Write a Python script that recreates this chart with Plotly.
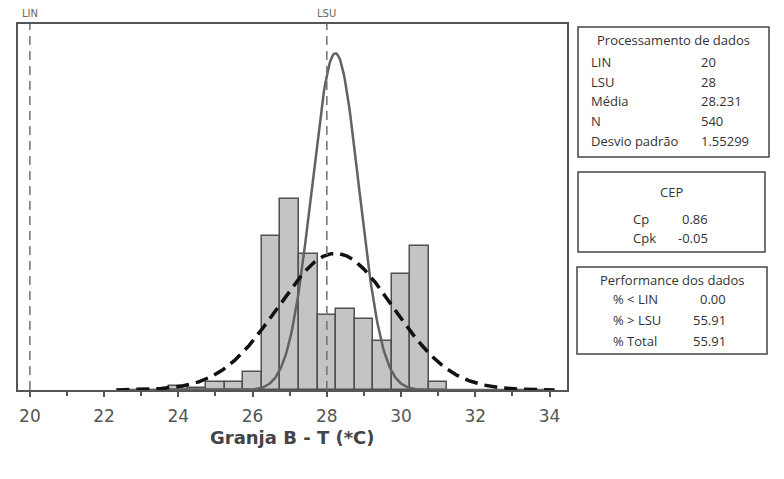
import numpy as np
import plotly.graph_objects as go

# ---- data ----
bin_centers = [24.0, 24.5, 25.0, 25.5, 26.0, 26.5, 27.0, 27.5, 28.0, 28.5, 29.0, 29.5, 30.0, 30.5, 31.0]
bin_counts = [2, 1, 4, 4, 9, 78, 97, 69, 38, 41, 36, 25, 59, 73, 4]
bin_width = 0.5

LIN = 20
LSU = 28
mean = 28.231
n_obs = 540
sd_overall = 1.55299
sd_within = 0.63

x_ticks = [20, 22, 24, 26, 28, 30, 32, 34]
x_title = "Granja B - T (*C)"

box1_title = "Processamento de dados"
box1_labels = ["LIN", "LSU", "Média", "N", "Desvio padrão"]
box1_values = ["20", "28", "28.231", "540", "1.55299"]

box2_title = "CEP"
box2_labels = ["Cp", "Cpk"]
box2_values = ["0.86", "-0.05"]

box3_title = "Performance dos dados"
box3_labels = ["% < LIN", "% > LSU", "% Total"]
box3_values = ["0.00", "55.91", "55.91"]

# ---- geometry helpers (pixels -> paper) ----
L, R, T, B = 18, 567, 24, 390
W, H = 784, 479
def px(x):
    return (x - L) / (R - L)
def py(y):
    return (B - y) / (B - T)

fig = go.Figure()

fig.add_trace(go.Bar(
    x=bin_centers, y=bin_counts, width=bin_width,
    marker=dict(color="#c4c4c4", line=dict(color="#505050", width=1.5)),
    showlegend=False, hoverinfo="x+y"))

xs = np.linspace(mean - 3.8 * sd_overall, mean + 3.8 * sd_overall, 400)
def normal_counts(s):
    return n_obs * bin_width * np.exp(-0.5 * ((xs - mean) / s) ** 2) / (s * np.sqrt(2 * np.pi))

fig.add_trace(go.Scatter(x=xs, y=normal_counts(sd_within), mode="lines",
                         line=dict(color="#626262", width=2.5), showlegend=False))
fig.add_trace(go.Scatter(x=xs, y=normal_counts(sd_overall), mode="lines",
                         line=dict(color="#111111", width=3.5, dash="13px,7px"), showlegend=False))

shapes = []
for v in (LIN, LSU):
    shapes.append(dict(type="line", xref="x", yref="paper", x0=v, x1=v, y0=0, y1=1,
                       line=dict(color="#707070", width=1.5, dash="9px,6px"), layer="above"))

# boxes
boxes = [(578, 27, 769, 157), (578, 172, 765, 252), (577, 267, 767, 354)]
for (x0, y0, x1, y1) in boxes:
    shapes.append(dict(type="rect", xref="paper", yref="paper",
                       x0=px(x0), x1=px(x1), y0=py(y1), y1=py(y0),
                       line=dict(color="#444444", width=1.5), fillcolor="rgba(0,0,0,0)"))

annotations = []
txt_font = dict(family="Open Sans", size=13, color="#333333")
def add_text(x, y, text, anchor="left", font=txt_font):
    annotations.append(dict(x=px(x), y=py(y), xref="paper", yref="paper", text=text,
                            showarrow=False, xanchor=anchor, yanchor="middle", font=font))

# spec labels
for v, name in ((LIN, "LIN"), (LSU, "LSU")):
    annotations.append(dict(x=v, y=py(14), xref="x", yref="paper", text=name, showarrow=False,
                            xanchor="center", yanchor="middle",
                            font=dict(family="DejaVu Sans", size=10, color="#666666")))

# box 1
add_text(673, 40, box1_title, anchor="center")
for lab, val, yy in zip(box1_labels, box1_values, [62, 82, 101, 121, 141]):
    add_text(589, yy, lab)
    add_text(699, yy, val)

# box 2
add_text(671, 192, box2_title, anchor="center")
for lab, val, yy in zip(box2_labels, box2_values, [219, 238]):
    add_text(631, yy, lab)
    add_text(710, yy, val, anchor="right")

# box 3
add_text(672, 280, box3_title, anchor="center")
for lab, val, yy in zip(box3_labels, box3_values, [299, 320, 341]):
    add_text(611, yy, lab)
    add_text(728, yy, val, anchor="right")

# x axis title
annotations.append(dict(x=0.5, y=py(437), xref="paper", yref="paper", text="<b>" + x_title + "</b>",
                        showarrow=False, xanchor="center", yanchor="middle",
                        font=dict(family="DejaVu Sans", size=18, color="#444444")))

fig.update_layout(
    width=W, height=H,
    margin=dict(l=L, r=W - R, t=T, b=H - B, pad=0),
    paper_bgcolor="white", plot_bgcolor="white",
    bargap=0, shapes=shapes, annotations=annotations,
    xaxis=dict(range=[19.68, 34.47], tickvals=x_ticks, ticks="outside", ticklen=5,
               tickcolor="#555555", tickwidth=1.5,
               minor=dict(dtick=1, ticks="outside", ticklen=4, tickcolor="#555555", tickwidth=1.5),
               showline=True, linecolor="#555555", linewidth=1.5, mirror=True,
               showgrid=False, zeroline=False, ticklabelstandoff=5,
               tickfont=dict(family="DejaVu Sans", size=17, color="#555555")),
    yaxis=dict(range=[0, 185.8], showticklabels=False, ticks="", showgrid=False, zeroline=False,
               showline=True, linecolor="#555555", linewidth=1.5, mirror=True),
)

fig.write_html("out.html")
